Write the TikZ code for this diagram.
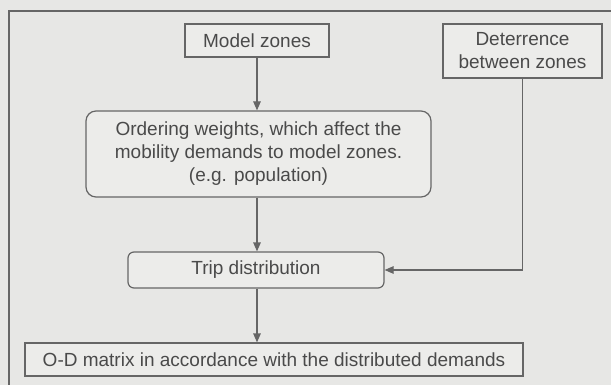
\documentclass[tikz,border=0pt]{standalone}
\usepackage{fontspec}
\setmainfont{Liberation Sans}
\usetikzlibrary{arrows.meta}
\definecolor{bg}{HTML}{E7E7E5}
\definecolor{boxbg}{HTML}{ECECEA}
\definecolor{ln}{HTML}{666666}
\definecolor{txt}{HTML}{4A4A4A}
\begin{document}
\begin{tikzpicture}[x=1pt,y=-1pt,
  every node/.style={font=\fontsize{19}{23}\selectfont, text=txt, inner sep=0pt, align=center},
  sqbox/.style={draw=ln, line width=1.2pt, fill=boxbg},
  rdbox/.style={sqbox, rounded corners=#1},
  arr/.style={draw=ln, line width=1.2pt, -{Triangle[length=9pt,width=7.5pt]}},
  ln/.style={draw=ln, line width=1.2pt}]
\fill[bg] (0,0) rectangle (611,385);
\useasboundingbox (0,0) rectangle (611,385);
\coordinate (fbl) at (9,386);
\coordinate (ftl) at (9,11);
\coordinate (ftr) at (612,11);
\draw[ln] (fbl) -- (ftl) -- (ftr);
\node[sqbox, minimum width=144pt, minimum height=33pt] (mz) at (257,40.5) {Model zones};
\node[sqbox, minimum width=159pt, minimum height=54pt] (det) at (522.5,51) {Deterrence\\between zones};
\node[rdbox=10pt, minimum width=345pt, minimum height=86pt] (ow) at (258.5,154) {Ordering weights, which affect the\\mobility demands to model zones.\\(e.g. population)};
\node[rdbox=6pt, minimum width=256pt, minimum height=36pt] (trip) at (256,270) {Trip distribution};
\node[sqbox, minimum width=498pt, minimum height=33pt] (od) at (274,359.5) {O-D matrix in accordance with the distributed demands};
\draw[arr] (mz.south) -- (mz.south |- ow.north);
\draw[arr] (mz.south |- ow.south) -- (mz.south |- trip.north);
\draw[arr] (mz.south |- trip.south) -- (mz.south |- od.north);
\draw[arr] (det.south) |- (trip.east);
\end{tikzpicture}
\end{document}
